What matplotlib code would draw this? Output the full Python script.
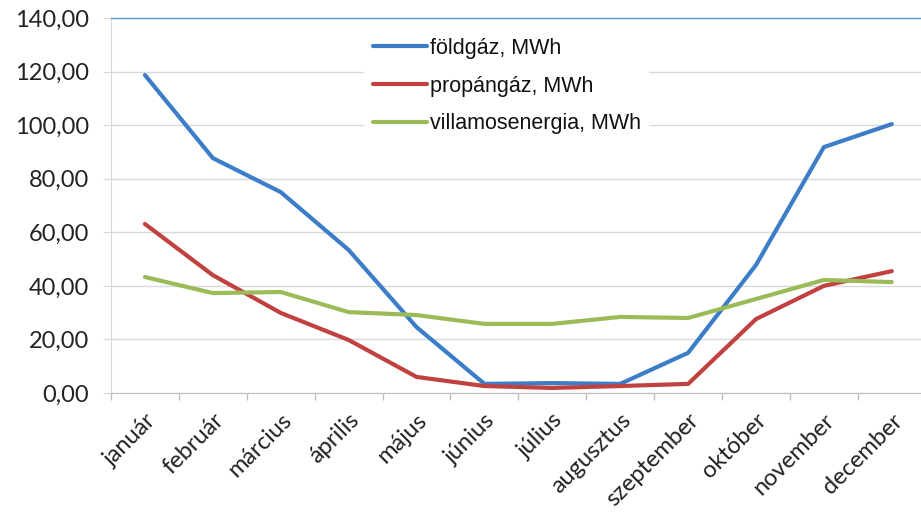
import numpy as np
import matplotlib.pyplot as plt
from matplotlib.ticker import FixedLocator, FuncFormatter

honapok = ["január", "február", "március", "április", "május", "június",
           "július", "augusztus", "szeptember", "október", "november", "december"]
foldgaz = [118.7, 87.7, 75.0, 53.4, 24.6, 3.4, 3.7, 3.4, 15.0, 47.8, 91.8, 100.4]
propangaz = [63.1, 44.0, 29.9, 19.8, 6.0, 2.6, 1.9, 2.6, 3.4, 27.6, 40.0, 45.5]
villamos = [43.3, 37.3, 37.7, 30.2, 29.1, 25.8, 25.8, 28.4, 28.0, 35.1, 42.2, 41.4]
nevek = ["földgáz, MWh", "propángáz, MWh", "villamosenergia, MWh"]

fig = plt.figure(figsize=(9.21, 5.18), dpi=100)
ax = fig.add_axes([111 / 921, 1 - 393 / 518, 1 - 111 / 921, (393 - 18) / 518])

x = np.arange(len(honapok))
ax.plot(x, foldgaz, color="#3C7DC8", lw=3.0, label=nevek[0], solid_capstyle="round")
ax.plot(x, propangaz, color="#C0413F", lw=3.0, label=nevek[1], solid_capstyle="round")
ax.plot(x, villamos, color="#9BBB59", lw=3.0, label=nevek[2], solid_capstyle="round")

ax.set_ylim(0, 140)
ax.set_xlim(-0.5, 11.43)
ax.set_yticks(np.arange(0, 141, 20))
ax.yaxis.set_major_formatter(FuncFormatter(lambda v, p: f"{v:.2f}".replace(".", ",")))
ax.grid(axis="y", color="#D9D9D9", lw=1.0)
ax.set_axisbelow(True)

ax.set_xticks(x)
ax.set_xticklabels(honapok, rotation=45, ha="right", rotation_mode="anchor")
ax.xaxis.set_minor_locator(FixedLocator(np.arange(-0.5, 12, 1)))
ax.tick_params(axis="x", which="major", length=0, pad=12)
ax.tick_params(axis="x", which="minor", length=5, color="#BFBFBF", width=1)
ax.tick_params(axis="y", length=6, color="#D9D9D9", pad=10)
for lab in ax.get_xticklabels() + ax.get_yticklabels():
    lab.set_fontfamily("Lato")
    lab.set_fontsize(17)
    lab.set_color("#222222")

ax.spines["right"].set_visible(False)
ax.spines["top"].set_color("#5B9BD5")
ax.spines["top"].set_linewidth(1.0)
ax.spines["left"].set_color("#D9D9D9")
ax.spines["bottom"].set_color("#BFBFBF")

leg = ax.legend(loc="upper left", bbox_to_anchor=(0.299, 0.999), frameon=True,
                framealpha=1, edgecolor="white", handlelength=2.55, handletextpad=0.1,
                labelspacing=0.78, borderpad=0.4,
                prop={"family": "Liberation Sans", "size": 15.5})
leg.get_frame().set_linewidth(0)
for t in leg.get_texts():
    t.set_color("#111111")

fig.savefig("out.png", dpi=100)
